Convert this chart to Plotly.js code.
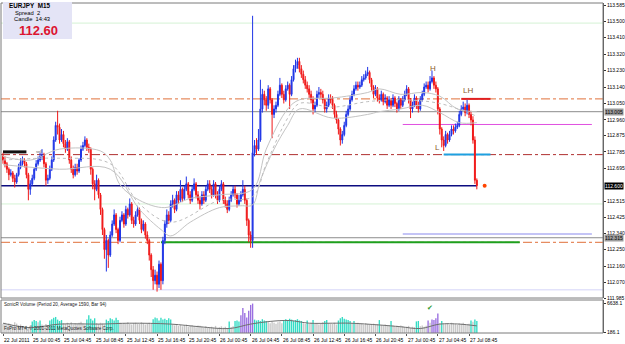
<!DOCTYPE html>
<html><head><meta charset="utf-8">
<script src="https://cdn.plot.ly/plotly-3.0.1.min.js"></script>
<style>html,body{margin:0;padding:0;background:#fff;overflow:hidden}#chart{width:625px;height:344px}</style>
</head><body><div id="chart"></div>
<script>
// ---------- DATA (EURJPY M15) ----------
const firstOpen = 112.76;
const closes = [
112.74,112.72,112.69,112.66,112.67,112.64,112.62,112.66,112.70,112.73,
112.74,112.72,112.66,112.58,112.61,112.64,112.69,112.72,112.74,112.76,
112.77,112.72,112.63,112.64,112.69,112.74,112.85,112.93,112.92,112.85,
112.88,112.83,112.80,112.84,112.74,112.69,112.66,112.70,112.68,112.74,
112.80,112.82,112.85,112.81,112.80,112.69,112.61,112.58,112.63,112.55,
112.47,112.36,112.25,112.30,112.22,112.33,112.39,112.44,112.36,112.30,
112.41,112.44,112.39,112.47,112.44,112.50,112.41,112.39,112.44,112.47,
112.41,112.36,112.39,112.33,112.30,112.22,112.14,112.08,112.11,112.06,
112.17,112.08,112.30,112.39,112.44,112.41,112.50,112.52,112.47,112.55,
112.52,112.58,112.53,112.58,112.61,112.55,112.52,112.58,112.61,112.55,
112.52,112.50,112.55,112.52,112.58,112.61,112.58,112.55,112.61,112.55,
112.52,112.58,112.61,112.52,112.50,112.47,112.52,112.55,112.58,112.55,
112.50,112.52,112.55,112.58,112.52,112.41,112.33,112.30,112.78,112.82,
112.80,112.85,113.02,113.10,113.07,113.04,113.13,113.07,112.99,113.02,
113.04,113.10,113.15,113.10,113.07,113.13,113.15,113.10,113.18,113.24,
113.26,113.28,113.24,113.21,113.18,113.15,113.13,113.10,113.07,113.02,
113.04,113.10,113.11,113.10,113.07,113.02,113.04,113.08,113.07,113.04,
112.99,112.96,112.91,112.85,112.88,112.93,112.99,113.02,113.07,113.10,
113.13,113.15,113.14,113.15,113.18,113.19,113.21,113.22,113.18,113.14,
113.10,113.13,113.08,113.07,113.10,113.06,113.08,113.04,113.07,113.04,
113.08,113.05,113.02,113.07,113.04,113.07,113.10,113.13,113.07,113.02,
113.04,113.08,113.04,113.02,113.07,113.10,113.14,113.15,113.13,113.17,
113.19,113.15,113.13,113.02,112.91,112.85,112.82,112.88,112.85,112.88,
112.91,112.90,112.92,112.93,112.99,113.02,113.03,113.00,113.04,112.99,
112.96,112.85,112.63,112.60];
const highs = [
112.78,112.76,112.73,112.70,112.69,112.68,112.66,112.67,112.72,112.75,
112.76,112.75,112.73,112.67,112.63,112.66,112.70,112.74,112.76,112.78,
112.80,112.78,112.73,112.66,112.71,112.76,112.87,112.95,113.01,112.94,
112.91,112.90,112.85,112.86,112.85,112.76,112.71,112.72,112.72,112.75,
112.82,112.84,112.87,112.86,112.83,112.81,112.70,112.63,112.66,112.64,
112.56,112.48,112.37,112.33,112.31,112.35,112.41,112.47,112.45,112.37,
112.43,112.46,112.45,112.49,112.48,112.53,112.51,112.43,112.46,112.49,
112.48,112.42,112.41,112.40,112.35,112.31,112.23,112.16,112.14,112.13,
112.19,112.18,112.32,112.41,112.47,112.46,112.52,112.55,112.53,112.57,
112.57,112.63,112.59,112.60,112.65,112.62,112.57,112.60,112.64,112.62,
112.57,112.54,112.57,112.57,112.60,112.63,112.63,112.60,112.63,112.62,
112.57,112.60,112.63,112.62,112.54,112.52,112.54,112.57,112.60,112.60,
112.56,112.55,112.57,112.63,112.60,112.53,112.42,112.35,113.53,112.85,
112.86,112.91,113.18,113.13,113.12,113.09,113.15,113.14,113.08,113.04,
113.06,113.12,113.19,113.16,113.12,113.15,113.17,113.16,113.20,113.26,
113.29,113.30,113.30,113.26,113.23,113.20,113.17,113.15,113.12,113.09,
113.06,113.12,113.14,113.13,113.12,113.08,113.06,113.10,113.10,113.09,
113.05,113.01,112.97,112.92,112.90,112.95,113.01,113.04,113.09,113.12,
113.15,113.17,113.17,113.17,113.20,113.21,113.23,113.25,113.23,113.19,
113.15,113.15,113.14,113.10,113.12,113.11,113.10,113.09,113.09,113.08,
113.10,113.09,113.06,113.09,113.08,113.09,113.12,113.15,113.14,113.08,
113.06,113.10,113.09,113.06,113.09,113.12,113.16,113.17,113.17,113.20,
113.23,113.20,113.17,113.14,113.03,112.92,112.87,112.90,112.89,112.90,
112.93,112.93,112.94,112.95,113.01,113.04,113.06,113.05,113.07,113.05,
113.01,112.98,112.87,112.64];
const lows = [
112.72,112.70,112.67,112.63,112.65,112.62,112.59,112.61,112.65,112.69,
112.71,112.70,112.64,112.52,112.55,112.60,112.63,112.68,112.71,112.73,
112.74,112.70,112.60,112.61,112.63,112.68,112.73,112.84,112.88,112.83,
112.84,112.81,112.78,112.79,112.72,112.67,112.64,112.65,112.66,112.67,
112.73,112.79,112.81,112.79,112.78,112.66,112.58,112.52,112.57,112.53,
112.44,112.33,112.20,112.13,112.15,112.21,112.32,112.38,112.34,112.28,
112.29,112.40,112.37,112.38,112.42,112.43,112.39,112.37,112.38,112.43,
112.39,112.34,112.35,112.31,112.28,112.19,112.10,112.03,112.06,112.02,
112.04,112.03,112.06,112.28,112.37,112.39,112.40,112.48,112.45,112.46,
112.50,112.51,112.51,112.52,112.57,112.53,112.50,112.51,112.57,112.53,
112.50,112.47,112.49,112.50,112.51,112.57,112.56,112.53,112.54,112.53,
112.50,112.51,112.57,112.50,112.48,112.45,112.46,112.51,112.54,112.53,
112.48,112.49,112.51,112.54,112.50,112.38,112.29,112.26,112.26,112.76,
112.77,112.79,112.84,113.00,113.04,113.01,113.02,113.05,112.86,112.97,
113.00,113.03,113.09,113.08,113.05,113.06,113.12,113.02,113.09,113.17,
113.22,113.24,113.22,113.19,113.16,113.13,113.11,113.08,113.05,112.99,
113.00,113.03,113.08,113.08,113.05,113.00,113.00,113.03,113.05,113.02,
112.97,112.94,112.88,112.82,112.83,112.87,112.92,112.98,113.01,113.06,
113.09,113.12,113.12,113.13,113.14,113.17,113.18,113.20,113.16,113.12,
113.08,113.09,113.06,113.05,113.06,113.04,113.05,113.02,113.03,113.02,
113.03,113.03,113.00,113.01,113.02,113.03,113.06,113.09,113.05,112.97,
113.00,113.03,113.02,113.00,113.01,113.06,113.09,113.13,113.11,113.12,
113.16,113.13,113.11,112.99,112.88,112.81,112.79,112.81,112.83,112.84,
112.87,112.88,112.89,112.91,112.92,112.98,113.01,112.98,112.99,112.97,
112.93,112.83,112.61,112.58];

// moving-average envelopes (sampled along the bars)
const maUpIdx = [0,14,29,50,55,60,70,83,96,111,128,135,146,152,169,187,193,204,215,224,233,243];
const maUpVal = [112.76,112.74,112.80,112.79,112.74,112.605,112.52,112.48,112.53,112.55,112.58,112.80,113.02,113.07,113.08,113.11,113.13,113.10,113.11,113.09,113.02,113.005];
const maLoIdx = [0,29,55,70,81,86,96,111,122,128,132,139,146,152,169,187,193,204,215,224,234,243];
const maLoVal = [112.715,112.69,112.69,112.47,112.36,112.325,112.40,112.48,112.49,112.495,112.63,112.80,112.93,113.02,112.97,112.99,113.005,113.02,113.04,113.00,112.945,112.945];
const maMidIdx = [0,29,55,70,86,111,128,135,146,152,169,187,204,224,243];
const maMidVal = [112.74,112.75,112.72,112.50,112.40,112.52,112.54,112.72,112.97,113.05,113.03,113.06,113.07,113.05,112.98];

// SonicR volume
const volumes = [
2100,2300,1900,2200,2000,1800,2400,2100,1700,1900,1500,1300,1600,1200,1400,
2600,2900,2700,2400,2800,
1900,1700,2000,1800,
2800,3100,3400,3600,3000,2700,2900,
2200,2000,2300,2100,2400,1900,2200,2000,2300,2500,2100,1900,
3000,4000,3200,2800,3300,
2200,2000,2300,2100,1900,
3000,2700,3300,3100,2800,3400,2900,
2300,2100,2200,2000,2400,2100,1900,2200,2300,2000,2100,2400,2200,1900,2000,2300,2100,
3100,3500,3300,2800,3400,3000,3200,2900,3300,3000,
1900,1700,2000,1600,1800,1500,1700,1900,1400,1600,1800,1500,1300,1700,1600,1400,1200,1500,1300,1100,1400,1200,1600,1000,1300,1500,
1200,1400,1100,2600,1300,1500,2700,2800,2600,
4000,5600,4500,3500,5000,6300,6600,
3000,2800,2900,2700,3100,2800,2700,
2400,2200,2500,2300,2100,2400,2600,2200,
2900,3100,2800,3200,3000,2700,2900,3100,2800,
2700,2200,2000,2800,2100,2300,2900,2000,2200,1900,2100,2400,
2700,2900,2200,2000,2100,2300,1900,
2800,3300,3600,3200,3000,2900,2700,
2200,2700,2000,2300,
2000,2100,1900,2200,2000,1800,2000,2100,1900,2000,2900,1800,1700,1900,1600,1800,2700,
1700,1500,1600,1400,1700,1500,1300,1400,1600,1200,1400,1300,
2600,2700,
1500,1700,1400,1600,
2800,2300,3000,2900,3300,4400,2200,2700,
2100,2000,2200,1900,2300,2100,2000,1800,2200,2100,2300,2000,1900,2100,
2800,2500,3000,2700];
// g = below average, t = above average, p = climax
const volKind = [
"ggggggggggggggg","tttgt","gggg","ttttttt","gggggggggggg","ttttt","ggggg","ttttttt",
"ggggggggggggggggg","tttttttttt","gggggggggggggggggggggggggg","gggtggttt","ppppppp",
"ttttttt","gggggggg","ttttttttt","tggtggtggggg","ttggggg","ttttttt","gtgg",
"ggggggggggtgggggt","gggggggggggg","tt","gggg","pgppppgt","gggggggggggggg","tgtt"].join('');
const vmaIdx = [0,14,29,50,65,86,101,116,127,137,147,157,169,178,193,204,214,224,234,243];
const vmaVal = [2200,1200,2000,2000,2200,2000,1400,1000,2000,2600,2800,2200,2200,2200,1800,1400,1000,2000,2000,1600];

// axis labels
const priceTicks = [113.585,113.500,113.410,113.320,113.230,113.140,113.050,112.960,112.875,112.785,112.695,112.515,112.425,112.340,112.250,112.160,112.070,111.985];
const timeTickIdx = [0,15,31,47,63,79,95,111,127,143,159,175,191,207,223,239];
const timeTickText = ["22 Jul 2011","25 Jul 00:45","25 Jul 04:45","25 Jul 08:45","25 Jul 12:45","25 Jul 16:45","25 Jul 20:45","26 Jul 00:45","26 Jul 04:45","26 Jul 08:45","26 Jul 12:45","26 Jul 16:45","26 Jul 20:45","27 Jul 00:45","27 Jul 04:45","27 Jul 08:45"];
const volTicks = [186.1, 6638.1];

// price levels drawn on the chart
const levelLightGreenHi = 113.49, levelOrangeHi = 113.075, levelGrayHi = 113.005,
      levelMagenta = 112.935, levelSell = 112.785, levelRedDD = 112.77, levelNavy = 112.60,
      levelLightGreenLo = 112.50, levelLavender = 112.335, levelGrayLo = 112.315,
      levelGreen = 112.29, levelLavBottom = 112.03;
const pivotText = ["H","LH","L"];
const pivotIdx = [220.5, 238.5, 222.6];
const pivotPrice = [113.24, 113.12, 112.81];

// ---------- BUILD ----------
const idx = closes.map((_, i) => i);
const opens = [firstOpen].concat(closes.slice(0, -1));
const last = closes.length - 1;
const PX = x => (x - 1) / 602, PY = y => (333 - y) / 330;
const FONT = 'Liberation Sans, Arial, sans-serif';

const traces = [
  {type:'scatter', mode:'lines', x:maUpIdx, y:maUpVal, xaxis:'x', yaxis:'y', line:{color:'#c4c4c4', width:1, shape:'spline'}, hoverinfo:'skip'},
  {type:'scatter', mode:'lines', x:maLoIdx, y:maLoVal, xaxis:'x', yaxis:'y', line:{color:'#c4c4c4', width:1, shape:'spline'}, hoverinfo:'skip'},
  {type:'scatter', mode:'lines', x:maMidIdx, y:maMidVal, xaxis:'x', yaxis:'y', line:{color:'#bdbdbd', width:1, dash:'dot', shape:'spline'}, hoverinfo:'skip'},
  {type:'candlestick', x:idx, open:opens, high:highs, low:lows, close:closes, xaxis:'x', yaxis:'y',
   increasing:{line:{color:'#1f35e6', width:1}, fillcolor:'#1f35e6'},
   decreasing:{line:{color:'#f01818', width:1}, fillcolor:'#f01818'}, whiskerwidth:0},
  {type:'scatter', mode:'markers', x:[last + 4], y:[closes[last]], xaxis:'x', yaxis:'y', marker:{color:'#ff4500', size:4}},
  {type:'bar', x:idx, y:volumes, xaxis:'x2', yaxis:'y2', width:0.7,
   marker:{color: volumes.map((_, i) => ({g:'#c8c8c8', t:'#33dcc4', p:'#9a6fe0'})[volKind[i] || 'g']), line:{width:0}}},
  {type:'scatter', mode:'lines', x:vmaIdx, y:vmaVal, xaxis:'x2', yaxis:'y2', line:{color:'#707070', width:1, shape:'spline'}}
];

function hline(y, color, width, dash, x0, x1) {
  const full = (x0 === undefined);
  return {type:'line', xref: full ? 'paper' : 'x', yref:'y', x0: full ? 0 : x0, x1: full ? 1 : x1, y0:y, y1:y,
          line:{color:color, width:width, dash:dash || 'solid'}, layer:'below'};
}
const shapes = [
  {type:'rect', xref:'paper', yref:'paper', x0:0, x1:1, y0:0.106, y1:1, line:{color:'#7a7a7a', width:1}},
  {type:'rect', xref:'paper', yref:'paper', x0:0, x1:1, y0:0, y1:0.1, line:{color:'#7a7a7a', width:1}},
  hline(levelLightGreenHi, '#d4f2d4', 1),
  hline(levelOrangeHi, '#e0703a', 1, 'dashdot'),
  hline(levelGrayHi, '#8c8c8c', 1),
  hline(levelMagenta, '#e050e0', 1, 'solid', 205, 302),
  hline(levelRedDD, '#b03030', 1, 'dashdot'),
  hline(levelLightGreenLo, '#d4f2d4', 1),
  hline(levelLavender, '#c4c4f6', 2, 'solid', 205, 302),
  hline(levelGrayLo, '#8c8c8c', 1),
  hline(levelGreen, '#e0703a', 1, 'dashdot'),
  hline(levelLavBottom, '#e2e2fa', 1.5),
  hline(levelNavy, '#0c0c80', 1.5, 'solid', -2, last),
  hline(levelGreen, '#1ea01e', 2, 'solid', 81, 265),
  hline(levelOrangeHi, '#e02020', 2, 'solid', 235, 250),
  hline(levelRedDD, '#1ea0e0', 2, 'solid', 226, 250),
  hline(levelSell, '#111111', 3, 'solid', 0, 12),
  {type:'rect', xref:'paper', yref:'paper', x0:PX(3), x1:PX(72), y0:PY(39), y1:PY(2), fillcolor:'#e4e4f6', line:{width:0}}
];

const ann = [];
function txt(x, y, text, size, color, opts) {
  ann.push(Object.assign({xref:'paper', yref:'paper', x:PX(x), y:PY(y), text:text, showarrow:false,
    font:{family:FONT, size:size, color:color || '#000'}, xanchor:'center', yanchor:'middle', borderpad:0}, opts || {}));
}
// info panel
txt(29, 5.5, '<b>EURJPY\u00a0\u00a0M15</b>', 6.3);
txt(27, 12.6, 'Spread\u00a0\u00a02', 5.8);
txt(32, 19.4, 'Candle\u00a0\u00a014:43', 5.8);
txt(38, 31, '<b>' + closes[last].toFixed(2) + '</b>', 13, '#dc1430');
txt(3, 304, 'SonicR Volume (Period 20, Average 1590, Bar 94)', 4.6, '#222', {xanchor:'left'});
txt(3, 328, 'FxPro MT4, \u00a9 2001-2011 MetaQuotes Software Corp.', 4.6, '#222', {xanchor:'left'});
txt(39, 151, 'sell', 4, '#666');
pivotText.forEach((t, k) => ann.push({xref:'x', yref:'y', x:pivotIdx[k], y:pivotPrice[k], text:t, showarrow:false,
  font:{family:FONT, size:8, color:'#8b5a2b'}}));
ann.push({xref:'x2', yref:'y2', x:219, y:5800, text:'\u2714', showarrow:false, font:{size:7, color:'#2e9a2e'}});
timeTickIdx.forEach((v, k) => ann.push({xref:'x2', yref:'paper', x:v, y:0, yshift:-2, text:timeTickText[k], showarrow:false,
  xanchor:'left', yanchor:'top', xshift:-1, font:{family:FONT, size:5, color:'#000'}}));
function priceBox(p, bg, fg) {
  ann.push({xref:'paper', yref:'y', x:1, xanchor:'left', xshift:1, y:p, text:p.toFixed(3), showarrow:false,
    bgcolor:bg, borderpad:0, font:{family:FONT, size:5, color:fg}});
}
priceBox(levelGrayHi, '#9c9c9c', '#000');
priceBox(closes[last], '#000', '#fff');
priceBox(levelGrayLo, '#9c9c9c', '#000');

const axBase = {showgrid:false, zeroline:false, fixedrange:true};
const layout = {
  width:625, height:344, margin:{l:1, r:22, t:3, b:11},
  paper_bgcolor:'#fff', plot_bgcolor:'#fff', showlegend:false,
  font:{family:FONT, size:5, color:'#000'},
  xaxis:Object.assign({}, axBase, {domain:[0,1], range:[-1.03, 307.7], showticklabels:false, anchor:'y', rangeslider:{visible:false}}),
  xaxis2:Object.assign({}, axBase, {domain:[0,1], range:[-1.03, 307.7], showticklabels:false, anchor:'y2',
    tickvals:timeTickIdx, ticks:'outside', ticklen:2, tickcolor:'#555'}),
  yaxis:Object.assign({}, axBase, {domain:[0.106,1], range:[111.985, 113.60], side:'right', anchor:'x',
    tickvals:priceTicks, ticktext:priceTicks.map(v => v.toFixed(3)), ticks:'outside', ticklen:2, tickcolor:'#333',
    tickfont:{family:FONT, size:5}, showline:true, linecolor:'#555', linewidth:1}),
  yaxis2:Object.assign({}, axBase, {domain:[0,0.1], range:[0, 7400], side:'right', anchor:'x2',
    tickvals:volTicks, ticktext:volTicks.map(v => v.toFixed(1)), ticks:'outside', ticklen:2, tickcolor:'#333',
    tickfont:{family:FONT, size:5}, showline:true, linecolor:'#555', linewidth:1}),
  bargap:0.3,
  shapes:shapes, annotations:ann
};
Plotly.newPlot('chart', traces, layout, {staticPlot:true, displayModeBar:false});
</script>
</body></html>
